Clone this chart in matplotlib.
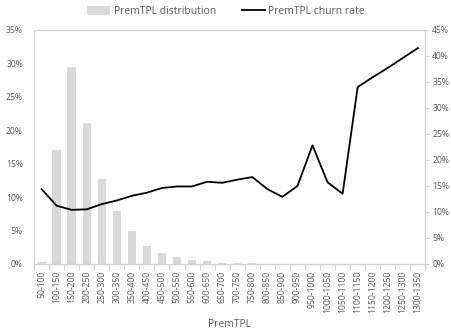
import numpy as np
import matplotlib.pyplot as plt
from matplotlib.ticker import PercentFormatter, FixedLocator

plt.rcParams['font.family'] = ['Open Sans', 'DejaVu Sans']

# premium bands
bands = ['50-100', '100-150', '150-200', '200-250', '250-300', '300-350', '350-400',
         '400-450', '450-500', '500-550', '550-600', '600-650', '650-700', '700-750',
         '750-800', '800-850', '850-900', '900-950', '950-1000', '1000-1050',
         '1050-1100', '1100-1150', '1150-1200', '1200-1250', '1250-1300', '1300-1350']

# share of policies in each band (%)
distribution = [0.35, 17.0, 29.5, 21.1, 12.7, 7.85, 4.9, 2.7, 1.7, 1.0, 0.6, 0.45, 0.2,
                0.1, 0.08, 0.05, 0.04, 0.03, 0.03, 0.02, 0.02, 0.02, 0.01, 0.01, 0.01, 0.01]

# churn rate per band (%)
churn = [14.4, 11.2, 10.4, 10.5, 11.5, 12.2, 13.1, 13.7, 14.6, 14.9, 14.9, 15.8, 15.6,
         16.2, 16.7, 14.4, 12.9, 15.0, 22.8, 15.7, 13.5, 34.0, 35.9, 37.7, 39.6, 41.5]

grey = '#595959'
spine = '#D0D0D0'

fig = plt.figure(figsize=(4.52, 3.32), dpi=100)
ax = fig.add_axes([0.0752, 0.205, 0.866, 0.705])
ax2 = ax.twinx()

x = np.arange(len(bands))
bars = ax.bar(x, distribution, width=0.55, color='#D9D9D9', zorder=1)
line, = ax2.plot(x, churn, color='black', lw=1.3, zorder=3)

ax.set_xlim(-0.5, len(bands) - 0.5)
ax.set_ylim(0, 35)
ax2.set_ylim(0, 45)
ax.set_yticks(np.arange(0, 36, 5))
ax2.set_yticks(np.arange(0, 46, 5))
ax.yaxis.set_major_formatter(PercentFormatter(decimals=0))
ax2.yaxis.set_major_formatter(PercentFormatter(decimals=0))

ax.set_xticks(x)
ax.set_xticklabels(bands, rotation=90)
ax.xaxis.set_minor_locator(FixedLocator(np.arange(-0.5, len(bands), 1)))
ax.tick_params(axis='x', which='major', length=0, pad=5, labelsize=6.2, labelcolor=grey)
ax.tick_params(axis='x', which='minor', length=4, color=spine, width=0.8)
ax.tick_params(axis='y', length=0, labelsize=6.2, labelcolor=grey, pad=8)
ax2.tick_params(axis='y', length=3, color=spine, labelsize=6.2, labelcolor=grey, pad=2)

for a in (ax, ax2):
    for s in a.spines.values():
        s.set_color(spine)
        s.set_linewidth(0.8)

ax.set_xlabel('PremTPL', fontsize=7.5, color=grey, labelpad=4)

ax2.set_zorder(ax.get_zorder() + 1)
ax2.patch.set_visible(False)

fig.legend([bars, line], ['PremTPL distribution', 'PremTPL churn rate'],
           loc='center', bbox_to_anchor=(0.5, 0.966), ncol=2, frameon=False,
           fontsize=7.5, labelcolor=grey, handlelength=2.2, handleheight=0.9,
           columnspacing=2.5, handletextpad=0.3)

fig.savefig('out.png', dpi=100)
